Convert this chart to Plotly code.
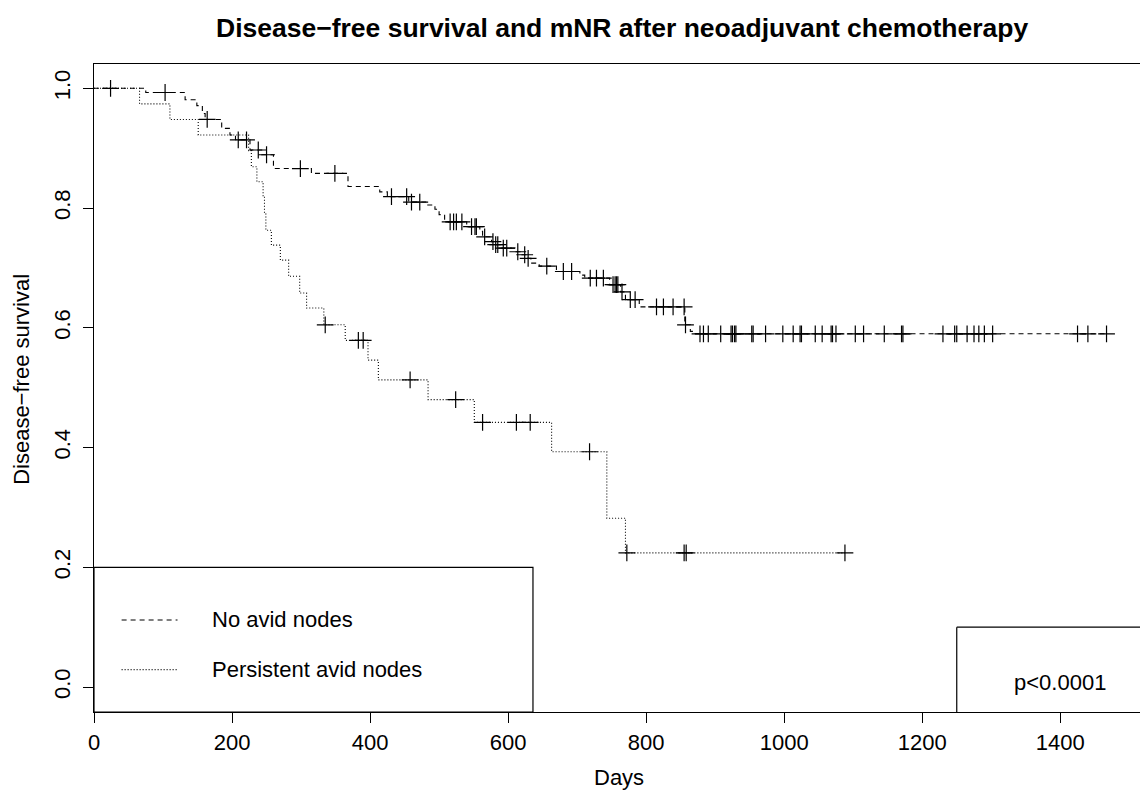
import plotly.graph_objects as go

# ---- data ----
# No avid nodes: event times (days) and survival after each drop
no_avid_event_days = [75, 132, 149, 157, 161, 185, 197, 205, 226, 243, 260, 315, 368, 414, 425,
                      456, 482, 494, 500, 508, 540, 559, 563, 576, 580, 590, 610, 620, 627, 633,
                      645, 670, 704, 711, 747, 763, 770, 790, 856, 864, 868]
no_avid_event_surv = [0.993, 0.981, 0.971, 0.958, 0.948, 0.933, 0.922, 0.914, 0.897, 0.889, 0.866,
                      0.858, 0.836, 0.827, 0.819, 0.810, 0.805, 0.798, 0.789, 0.777, 0.769, 0.761,
                      0.752, 0.744, 0.739, 0.733, 0.727, 0.722, 0.716, 0.708, 0.703, 0.694, 0.688,
                      0.683, 0.672, 0.660, 0.647, 0.635, 0.605, 0.594, 0.590]
no_avid_censor_days = [24, 103, 164, 209, 221, 238, 250, 299, 349, 431, 453, 460, 472, 516, 521, 525,
                       533, 547, 552, 554, 566, 578, 582, 585, 593, 598, 614, 624, 629, 656, 680,
                       692, 719, 728, 738, 752, 755, 757, 759, 765, 777, 784, 815, 825, 839, 855,
                       857, 878, 883, 890, 908, 923, 925, 928, 930, 953, 955, 973, 998, 1013, 1023,
                       1025, 1045, 1055, 1068, 1070, 1075, 1103, 1115, 1145, 1170, 1172, 1230,
                       1247, 1250, 1265, 1275, 1282, 1290, 1302, 1425, 1440, 1467]

# Persistent avid nodes
persist_event_days = [66, 110, 151, 224, 228, 236, 245, 247, 249, 257, 270, 282, 298, 308, 333,
                      364, 397, 412, 484, 551, 663, 743, 770]
persist_event_surv = [0.974, 0.948, 0.922, 0.896, 0.869, 0.844, 0.818, 0.790, 0.763, 0.738, 0.713,
                      0.686, 0.658, 0.633, 0.605, 0.579, 0.546, 0.513, 0.480, 0.442, 0.393, 0.282,
                      0.224]
persist_censor_days = [335, 383, 390, 458, 524, 563, 612, 632, 718, 772, 855, 858, 1088]

x_ticks = [0, 200, 400, 600, 800, 1000, 1200, 1400]
y_ticks = [0.0, 0.2, 0.4, 0.6, 0.8, 1.0]
y_tick_text = ["0.0", "0.2", "0.4", "0.6", "0.8", "1.0"]
legend_labels = ["No avid nodes", "Persistent avid nodes"]
p_text = "p<0.0001"

X_MAX = 1515.5
Y_MIN, Y_MAX = -0.0417, 1.0406
FONT = "Liberation Sans, Arial, Helvetica, sans-serif"


def step_curve(ev_days, ev_surv, cens_days):
    end = max([max(ev_days)] + list(cens_days))
    xs = [0] + list(ev_days) + [end]
    ys = [1.0] + list(ev_surv) + [ev_surv[-1]]
    return xs, ys


def surv_at(t, ev_days, ev_surv):
    s = 1.0
    for d, v in zip(ev_days, ev_surv):
        if d <= t:
            s = v
    return s


fig = go.Figure()

groups = [
    (no_avid_event_days, no_avid_event_surv, no_avid_censor_days, "5px,4px"),
    (persist_event_days, persist_event_surv, persist_censor_days, "1px,2px"),
]
for ev_d, ev_s, cens, dash in groups:
    xs, ys = step_curve(ev_d, ev_s, cens)
    fig.add_trace(go.Scatter(x=xs, y=ys, mode="lines", line_shape="hv",
                             line=dict(color="black", width=1.1, dash=dash),
                             showlegend=False, hoverinfo="skip"))
    fig.add_trace(go.Scatter(x=cens, y=[surv_at(c, ev_d, ev_s) for c in cens], mode="markers",
                             marker=dict(symbol="cross-thin", size=12,
                                         line=dict(color="black", width=1.2)),
                             showlegend=False, hoverinfo="skip"))

shapes = [
    # legend box
    dict(type="rect", xref="x", yref="y", x0=0, x1=636, y0=Y_MIN, y1=0.2,
         line=dict(color="black", width=1.2)),
    # p-value box (open to the right)
    dict(type="line", xref="x", yref="y", x0=1250, x1=1250, y0=Y_MIN, y1=0.1,
         line=dict(color="black", width=1.2)),
    dict(type="line", xref="x", yref="y", x0=1250, x1=X_MAX, y0=0.1, y1=0.1,
         line=dict(color="black", width=1.2)),
    # legend line samples
    dict(type="line", xref="x", yref="y", x0=40, x1=121, y0=0.112, y1=0.112,
         line=dict(color="black", width=1.1, dash="5px,4px")),
    dict(type="line", xref="x", yref="y", x0=40, x1=121, y0=0.029, y1=0.029,
         line=dict(color="black", width=1.1, dash="1px,2px")),
]

annotations = [
    dict(text=legend_labels[0], x=168, y=0.112, xref="x", yref="y", xanchor="left",
         yanchor="middle", showarrow=False, font=dict(family=FONT, size=22, color="black")),
    dict(text=legend_labels[1], x=168, y=0.029, xref="x", yref="y", xanchor="left",
         yanchor="middle", showarrow=False, font=dict(family=FONT, size=22, color="black")),
    dict(text=p_text, x=1400, y=0.008, xref="x", yref="y", xanchor="center",
         yanchor="middle", showarrow=False, font=dict(family=FONT, size=22, color="black")),
    dict(text="<b>Disease\u2212free survival and mNR after neoadjuvant chemotherapy</b>",
         x=0.5048, y=1.0555, xref="paper", yref="paper", xanchor="center", yanchor="middle",
         showarrow=False, font=dict(family=FONT, size=26.5, color="black")),
    dict(text="Days", x=0.502, y=-0.1013, xref="paper", yref="paper", xanchor="center",
         yanchor="middle", showarrow=False, font=dict(family=FONT, size=22, color="black")),
    dict(text="Disease\u2212free survival", x=-0.0688, y=0.5126, xref="paper", yref="paper",
         xanchor="center", yanchor="middle", textangle=-90, showarrow=False,
         font=dict(family=FONT, size=22, color="black")),
]

fig.update_layout(
    width=1140, height=793,
    margin=dict(l=94, r=0, t=64, b=81),
    paper_bgcolor="white", plot_bgcolor="white",
    shapes=shapes, annotations=annotations,
    font=dict(family=FONT, size=22, color="black"),
    xaxis=dict(range=[0, X_MAX], tickvals=x_ticks, ticks="outside", ticklen=10,
               tickwidth=1.2, tickcolor="black", showline=True, linecolor="black",
               linewidth=1.2, mirror=True, showgrid=False, zeroline=False, automargin=False,
               ticklabelstandoff=0, tickfont=dict(family=FONT, size=22, color="black")),
    yaxis=dict(range=[Y_MIN, Y_MAX], tickvals=y_ticks, ticktext=y_tick_text, ticks="outside",
               ticklen=10, tickwidth=1.2, tickcolor="black", showline=True, linecolor="black",
               linewidth=1.2, showgrid=False, zeroline=False, tickangle=-90, automargin=False,
               ticklabelstandoff=4, tickfont=dict(family=FONT, size=22, color="black")),
)

fig.write_html(
    "out.html",
    config={"displayModeBar": False},
    post_script="document.body.style.margin='0';document.body.style.overflow='hidden';",
)
